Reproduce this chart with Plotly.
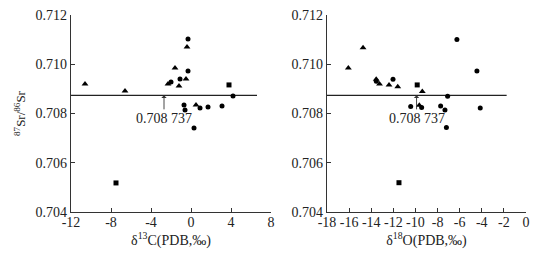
import plotly.graph_objects as go

REF = 0.708737

# Left panel: delta13C vs 87Sr/86Sr
c_tri_x = [-10.6, -6.6, -2.3, -1.6, -1.2, -0.5, -0.4, 0.5]
c_tri_y = [0.7092, 0.70891, 0.7092, 0.70985, 0.70912, 0.7094, 0.7107, 0.70835]
c_cir_x = [-2.0, -1.1, -0.3, -0.3, -0.7, -0.6, 0.9, 1.7, 3.1, 4.2, 0.3]
c_cir_y = [0.70928, 0.7094, 0.71103, 0.70973, 0.70835, 0.70814, 0.70822, 0.70826, 0.7083, 0.70871, 0.70741]
c_sq_x = [3.8, -7.5]
c_sq_y = [0.70916, 0.70518]
c_line_x = [-12, 6.6]
c_arrow_x = -2.7

# Right panel: delta18O vs 87Sr/86Sr
o_tri_x = [-16.07, -14.74, -13.55, -13.25, -12.39, -11.6, -9.38, -9.65]
o_tri_y = [0.70985, 0.71067, 0.70939, 0.7092, 0.70916, 0.70909, 0.70889, 0.70833]
o_cir_x = [-13.54, -12.03, -10.43, -9.44, -7.72, -7.33, -7.09, -6.25, -4.44, -4.14, -7.2]
o_cir_y = [0.70931, 0.70939, 0.70828, 0.70824, 0.7083, 0.70814, 0.7087, 0.71101, 0.70973, 0.70822, 0.70743]
o_sq_x = [-9.84, -11.49]
o_sq_y = [0.70916, 0.70519]
o_line_x = [-18, -1.75]
o_arrow_x = -9.9

c_ticks = [-12, -8, -4, 0, 4, 8]
o_ticks = [-18, -16, -14, -12, -10, -8, -6, -4, -2, 0]
y_ticks = [0.704, 0.706, 0.708, 0.710, 0.712]
y_ticktext = ["0.704", "0.706", "0.708", "0.710", "0.712"]

FONT = "Liberation Serif"
fig = go.Figure()

def add_panel(tx, ty, cx, cy, sx, sy, lx, xa, ya):
    fig.add_trace(go.Scatter(x=lx, y=[REF, REF], mode="lines",
                             line=dict(color="#222", width=1.3), xaxis=xa, yaxis=ya, showlegend=False))
    fig.add_trace(go.Scatter(x=tx, y=ty, mode="markers",
                             marker=dict(symbol="triangle-up", size=6, color="black"),
                             xaxis=xa, yaxis=ya, showlegend=False))
    fig.add_trace(go.Scatter(x=cx, y=cy, mode="markers",
                             marker=dict(symbol="circle", size=5, color="black"),
                             xaxis=xa, yaxis=ya, showlegend=False))
    fig.add_trace(go.Scatter(x=sx, y=sy, mode="markers",
                             marker=dict(symbol="square", size=5, color="black"),
                             xaxis=xa, yaxis=ya, showlegend=False))

add_panel(c_tri_x, c_tri_y, c_cir_x, c_cir_y, c_sq_x, c_sq_y, c_line_x, "x", "y")
add_panel(o_tri_x, o_tri_y, o_cir_x, o_cir_y, o_sq_x, o_sq_y, o_line_x, "x2", "y2")

W, H = 537, 254
L, R, T, B = 71, 11, 15, 42
PW = W - L - R

axis_common = dict(showline=True, linecolor="#333", linewidth=1.3, ticks="inside", ticklen=4,
                   tickcolor="#333", tickwidth=1.2, showgrid=False, zeroline=False,
                   tickfont=dict(family=FONT, size=14, color="#222"), automargin=False)

fig.update_layout(
    width=W, height=H, margin=dict(l=L, r=R, t=T, b=B),
    paper_bgcolor="white", plot_bgcolor="white",
    font=dict(family=FONT, color="#222"),
    xaxis=dict(domain=[0, 200 / PW], range=[-12, 8.0001], tickvals=c_ticks,
               ticktext=[str(t) for t in c_ticks], anchor="y", ticklabelstandoff=-3,
               title=dict(text="δ<sup>13</sup>C(PDB,‰)", font=dict(family=FONT, size=14), standoff=6),
               **axis_common),
    yaxis=dict(domain=[0, 1], range=[0.704, 0.712], tickvals=y_ticks, ticktext=y_ticktext,
               anchor="x",
               title=dict(text="<sup>87</sup>Sr/<sup>86</sup>Sr", font=dict(family=FONT, size=13), standoff=6),
               **axis_common),
    xaxis2=dict(domain=[256 / PW, 1.0], range=[-18, 0.0001], tickvals=o_ticks,
                ticktext=[str(t) for t in o_ticks], anchor="y2", ticklabelstandoff=-3,
                title=dict(text="δ<sup>18</sup>O(PDB,‰)", font=dict(family=FONT, size=14), standoff=6),
                **axis_common),
    yaxis2=dict(domain=[0, 1], range=[0.704, 0.712], tickvals=y_ticks, ticktext=y_ticktext,
                anchor="x2", **axis_common),
)

for xr, yr, ax in [("x", "y", c_arrow_x), ("x2", "y2", o_arrow_x)]:
    fig.add_annotation(x=ax, y=REF, xref=xr, yref=yr, text="0.708 737", showarrow=True,
                       arrowhead=1, arrowsize=1, arrowwidth=0.9, arrowcolor="#333",
                       ax=0, ay=23, font=dict(family=FONT, size=14, color="#222"))

fig.write_html("out.html", post_script="document.body.style.margin='0';",
               config={"displayModeBar": False})
